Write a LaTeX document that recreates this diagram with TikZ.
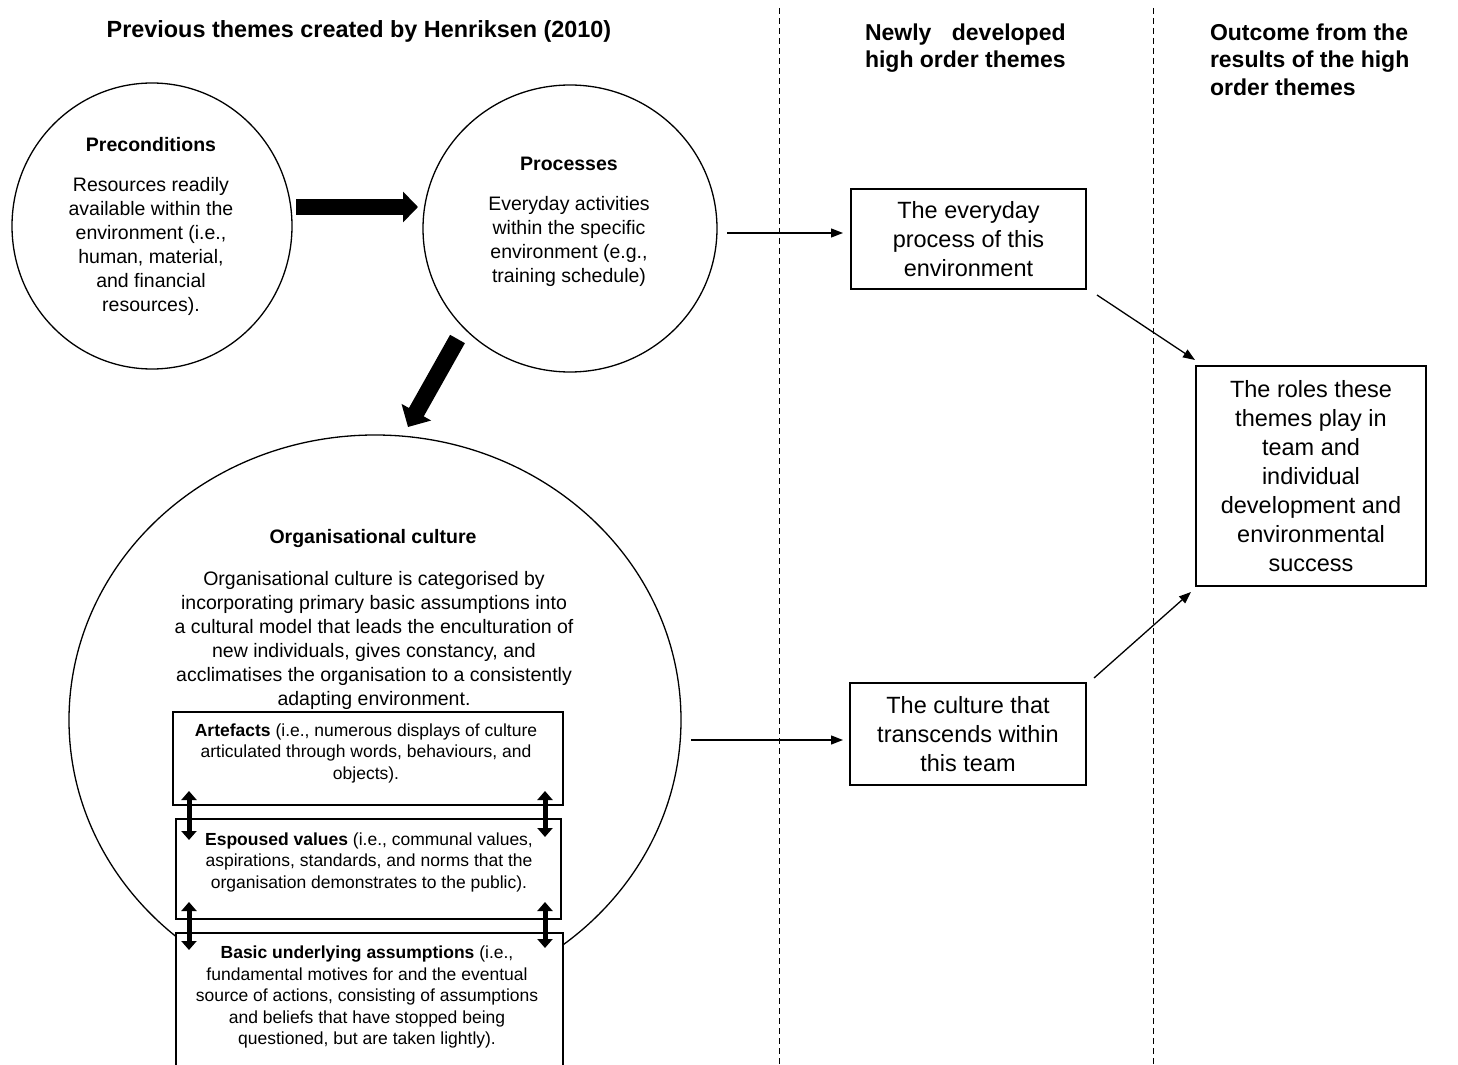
\documentclass[tikz,border=0pt]{standalone}
\usepackage{fontspec}
\setmainfont{Liberation Sans}
\usetikzlibrary{arrows.meta,shapes.geometric,calc}

\begin{document}
\begin{tikzpicture}[x=0.5pt,y=-0.5pt,
  every node/.style={inner sep=0pt, outer sep=0pt},
  themering/.style={draw, ellipse, line width=0.65pt},
  framebox/.style={draw, rectangle, fill=white, line width=0.75pt},
  bodytext/.style={align=center, font=\fontsize{9.75pt}{12pt}\selectfont},
  headtext/.style={align=center, font=\bfseries\fontsize{9.75pt}{12pt}\selectfont},
  layertext/.style={align=center, font=\fontsize{8.75pt}{10.75pt}\selectfont},
  themetext/.style={align=center, font=\fontsize{11.75pt}{14.5pt}\selectfont},
  columnhead/.style={align=left, font=\bfseries\fontsize{11.5pt}{13.75pt}\selectfont},
  divider/.style={line width=0.5pt, dash pattern=on 3pt off 2pt},
  bigarrow/.style={line width=8pt, -{Triangle[length=7.5pt,width=15pt]}},
  slantarrow/.style={line width=8.5pt, -{Triangle[length=8.5pt,width=16.5pt]}},
  layerlink/.style={line width=2.5pt, {Triangle[length=4.5pt,width=7.5pt]}-{Triangle[length=4.5pt,width=7.5pt]}},
  flow/.style={line width=0.65pt, -{Triangle[length=6pt,width=4.5pt]}}
]
\useasboundingbox (0,0) rectangle (1458,1065);
\clip (0,0) rectangle (1458,1065);

% column dividers
\coordinate (d1top) at (779,8);
\coordinate (d1bot) at (779,1065);
\coordinate (d2top) at (1153,8);
\coordinate (d2bot) at (1153,1065);
\draw[divider] (d1top) -- (d1bot);
\draw[divider] (d2top) -- (d2bot);

% column headings
\node[font=\bfseries\fontsize{11.7pt}{14pt}\selectfont] (headprev) at (359,31) {Previous themes created by Henriksen (2010)};
\node[columnhead, anchor=west] (headnew) at (865,48)
  {{\setbox0\hbox{high order themes}\hbox to \wd0{Newly\hfill developed}}\\high order themes};
\node[columnhead, anchor=west] (headout) at (1210,59.5)
  {Outcome from the\\results of the high\\order themes};

% the three themes from the earlier study
\node[themering, minimum width=140pt, minimum height=143pt] (prec) at (152,226) {};
\node[themering, minimum width=147pt, minimum height=143.5pt] (proc) at (570,228.5) {};
\node[themering, minimum width=306pt, minimum height=285pt] (org) at (375,720) {};

\node[headtext] (prectitle) at (151,144.5) {Preconditions};
\node[bodytext] (precbody) at (151,246)
  {Resources readily\\available within the\\environment (i.e.,\\human, material,\\and financial\\resources).};

\node[headtext] (proctitle) at (569,163.5) {Processes};
\node[bodytext] (procbody) at (569,241.5)
  {Everyday activities\\within the specific\\environment (e.g.,\\training schedule)};

\node[headtext] (orgtitle) at (373,538.5) {Organisational culture};
\node[bodytext] (orgbody) at (374,640.5)
  {Organisational culture is categorised by\\incorporating primary basic assumptions into\\a cultural model that leads the enculturation of\\new individuals, gives constancy, and\\acclimatises the organisation to a consistently\\adapting environment.};

% heavy arrows between the earlier themes
\draw[bigarrow] ($(prec.east)+(4,-19)$) -- ($(proc.west)+(-5,-21.5)$);
\draw[slantarrow] ($(proc.center)+(-112.5,110.5)$) -- ($(org.north)+(33,-8)$);

% the three levels of culture
\node[framebox, minimum width=195pt, minimum height=46.5pt] (art) at (368,758.5) {};
\node[framebox, minimum width=192.5pt, minimum height=50pt] (esp) at (368.5,869) {};
\node[framebox, minimum width=193.5pt, minimum height=83.5pt] (basic) at (369.5,1016.5) {};

\node[layertext] (arttxt) at (366,753)
  {\textbf{Artefacts} (i.e., numerous displays of culture\\articulated through words, behaviours, and\\objects).};
\node[layertext] (esptxt) at (369,862)
  {\textbf{Espoused values} (i.e., communal values,\\aspirations, standards, and norms that the\\organisation demonstrates to the public).};
\node[layertext] (basictxt) at (367,997)
  {\textbf{Basic underlying assumptions} (i.e.,\\fundamental motives for and the eventual\\source of actions, consisting of assumptions\\and beliefs that have stopped being\\questioned, but are taken lightly).};

\draw[layerlink] ($(art.south west)+(16,-14)$) -- ($(esp.north west)+(13,21)$);
\draw[layerlink] ($(art.south east)+(-18,-14)$) -- ($(esp.north east)+(-16,18)$);
\draw[layerlink] ($(esp.south west)+(13,-17)$) -- ($(basic.north west)+(13,17)$);
\draw[layerlink] ($(esp.south east)+(-16,-17)$) -- ($(basic.north east)+(-18,15)$);

% newly developed themes and their outcome
\node[framebox, themetext, minimum width=117.5pt, minimum height=50pt] (every) at (968.5,239)
  {\raisebox{-1pt}{\parbox{100pt}{\centering The everyday\\process of this\\environment}}};
\node[framebox, themetext, minimum width=118pt, minimum height=51pt] (cult) at (968,734)
  {\raisebox{-0.5pt}{\parbox{110pt}{\centering The culture that\\transcends within\\this team}}};
\node[framebox, themetext, minimum width=115pt, minimum height=110pt] (roles) at (1311,476)
  {\raisebox{0pt}{\parbox{110pt}{\centering The roles these\\themes play in\\team and\\individual\\development and\\environmental\\success}}};

\draw[flow] ($(proc.east)+(10,4.5)$) -- ($(every.west)+(-8,-6)$);
\draw[flow] ($(org.east)+(10,20)$) -- ($(cult.west)+(-7,6)$);
\draw[flow] ($(every.south east)+(11,6)$) -- ($(roles.north west)+(-1,-6)$);
\draw[flow] ($(cult.north east)+(8,-5)$) -- ($(roles.south west)+(-5,6)$);
\end{tikzpicture}
\end{document}
